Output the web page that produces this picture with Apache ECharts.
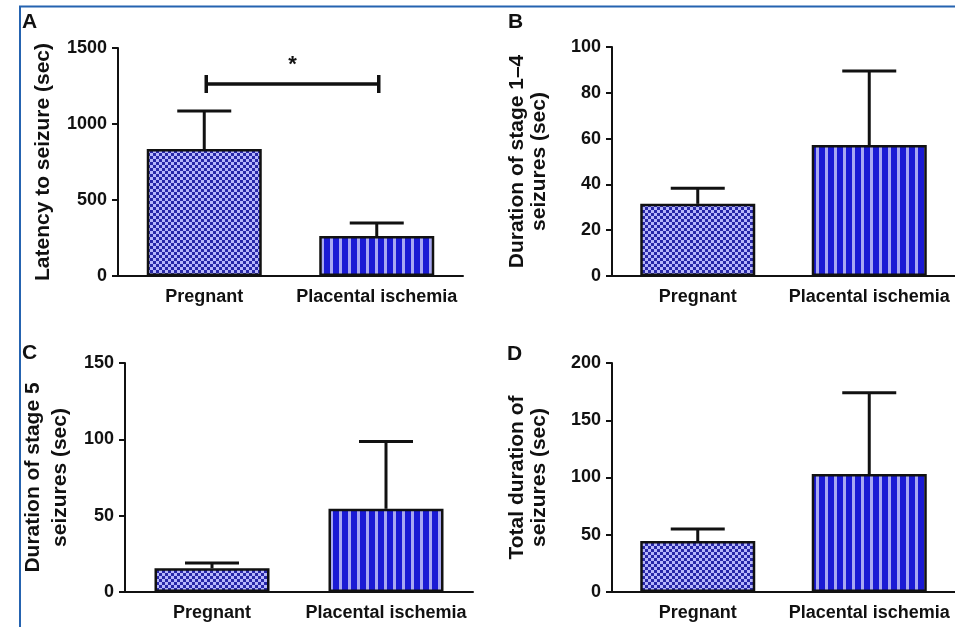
<!DOCTYPE html>
<html>
<head>
<meta charset="utf-8">
<script src="https://cdn.jsdelivr.net/npm/echarts@6/dist/echarts.min.js"></script>
<style>
html,body{margin:0;padding:0;background:#fff;}
#chart{width:955px;height:627px;}
</style>
</head>
<body>
<div id="chart"></div>
<script>
// ---------- data ----------
const categories = ['Pregnant', 'Placental ischemia'];
const latencyMean = [835, 263];
const latencySem = [250, 85];
const stage14Mean = [31.5, 57.2];
const stage14Sem = [6.8, 32.3];
const stage5Mean = [15.5, 54.5];
const stage5Sem = [3.5, 44];
const totalMean = [44.5, 103];
const totalSem = [10.5, 71];
const sigLevel = 1263;
const sigText = '*';
const panelLetters = ['A', 'B', 'C', 'D'];
const yTitles = ['Latency to seizure (sec)', 'Duration of stage 1\u20134\nseizures (sec)', 'Duration of stage 5\nseizures (sec)', 'Total duration of\nseizures (sec)'];
const yMax = [1500, 100, 150, 200];
const yInterval = [500, 20, 50, 50];

// ---------- patterns ----------
function checkerPattern() {
  const c = document.createElement('canvas');
  c.width = 6; c.height = 6;
  const g = c.getContext('2d');
  g.fillStyle = '#b6b6fb'; g.fillRect(0, 0, 6, 6);
  g.fillStyle = '#2828a8';
  g.fillRect(0, 0, 3, 3); g.fillRect(3, 3, 3, 3);
  return c;
}
function stripePattern() {
  const c = document.createElement('canvas');
  c.width = 9; c.height = 9;
  const g = c.getContext('2d');
  g.fillStyle = '#1a1ad4'; g.fillRect(0, 0, 9, 9);
  g.fillStyle = '#a8a8f2'; g.fillRect(6, 0, 3, 9);
  return c;
}
const fills = [
  { image: checkerPattern(), repeat: 'repeat' },
  { image: stripePattern(), repeat: 'repeat' }
];

const FONT = '"Liberation Sans", Arial, sans-serif';
const grids = [
  { left: 118, top: 48, width: 345, height: 228 },
  { left: 612, top: 47, width: 343, height: 229 },
  { left: 125, top: 363, width: 348, height: 229 },
  { left: 612, top: 363, width: 343, height: 229 }
];
const nameGaps = [64, 62, 51, 62];
const nameLH = [22, 22, 27, 22];

const means = [latencyMean, stage14Mean, stage5Mean, totalMean];
const sems = [latencySem, stage14Sem, stage5Sem, totalSem];

const xAxes = [], yAxes = [], series = [];
for (let i = 0; i < 4; i++) {
  xAxes.push({
    type: 'category', gridIndex: i, data: categories,
    axisLine: { lineStyle: { color: '#111', width: 2 } },
    axisTick: { alignWithLabel: true, length: 7, lineStyle: { color: '#111', width: 2 } },
    axisLabel: { color: '#111', fontFamily: FONT, fontWeight: 'bold', fontSize: 18, margin: 12, interval: 0 }
  });
  yAxes.push({
    type: 'value', gridIndex: i, min: 0, max: yMax[i], interval: yInterval[i],
    name: yTitles[i], nameLocation: 'middle', nameRotate: 90, nameGap: nameGaps[i],
    nameTextStyle: { color: '#111', fontFamily: FONT, fontWeight: 'bold', fontSize: 21, lineHeight: nameLH[i] },
    axisLine: { show: true, lineStyle: { color: '#111', width: 2 } },
    axisTick: { show: true, length: 6, lineStyle: { color: '#111', width: 2 } },
    splitLine: { show: false },
    axisLabel: { color: '#111', fontFamily: FONT, fontWeight: 'bold', fontSize: 18, margin: 11,
      formatter: v => String(v) }
  });
  series.push({
    type: 'bar', xAxisIndex: i, yAxisIndex: i, barWidth: 115,
    data: means[i].map((v, k) => ({ value: v, itemStyle: { color: fills[k] } })),
    itemStyle: { borderColor: '#111', borderWidth: 2.5 },
    silent: true, z: 2
  });
  series.push({
    type: 'custom', xAxisIndex: i, yAxisIndex: i, z: 1,
    data: means[i].map((v, k) => [k, v, v + sems[i][k]]),
    renderItem: function (params, api) {
      const p0 = api.coord([api.value(0), api.value(1)]);
      const p1 = api.coord([api.value(0), api.value(2)]);
      const st = { stroke: '#111', lineWidth: 3 };
      return {
        type: 'group', children: [
          { type: 'line', shape: { x1: p0[0], y1: p0[1], x2: p1[0], y2: p1[1] }, style: st },
          { type: 'line', shape: { x1: p1[0] - 27, y1: p1[1], x2: p1[0] + 27, y2: p1[1] }, style: st }
        ]
      };
    }
  });
}
// significance bracket in panel A
series.push({
  type: 'custom', xAxisIndex: 0, yAxisIndex: 0, z: 3,
  data: [[0, 1, sigLevel]],
  renderItem: function (params, api) {
    const a = api.coord([api.value(0), api.value(2)]);
    const b = api.coord([api.value(1), api.value(2)]);
    const st = { stroke: '#111', lineWidth: 3.5 };
    return {
      type: 'group', children: [
        { type: 'line', shape: { x1: a[0] + 2, y1: a[1], x2: b[0] + 2, y2: b[1] }, style: st },
        { type: 'line', shape: { x1: a[0] + 2, y1: a[1] - 9, x2: a[0] + 2, y2: a[1] + 9 }, style: st },
        { type: 'line', shape: { x1: b[0] + 2, y1: b[1] - 9, x2: b[0] + 2, y2: b[1] + 9 }, style: st },
        { type: 'text', x: (a[0] + b[0]) / 2 + 2, y: a[1] - 8,
          style: { text: sigText, fill: '#111', font: 'bold 22px ' + FONT, textAlign: 'center', textVerticalAlign: 'bottom' } }
      ]
    };
  }
});

const letterPos = [[22, 12], [508, 12], [22, 343], [507, 344]];
const graphics = panelLetters.map((t, i) => ({
  type: 'text', left: letterPos[i][0], top: letterPos[i][1],
  style: { text: t, fill: '#111', font: 'bold 21px ' + FONT }
}));
graphics.push({ type: 'line', shape: { x1: 19, y1: 6.5, x2: 955, y2: 6.5 }, style: { stroke: '#2563b0', lineWidth: 2 } });
graphics.push({ type: 'line', shape: { x1: 20, y1: 6, x2: 20, y2: 627 }, style: { stroke: '#2563b0', lineWidth: 2 } });

const chart = echarts.init(document.getElementById('chart'), null, { renderer: 'canvas' });
chart.setOption({
  animation: false,
  backgroundColor: '#fff',
  grid: grids,
  xAxis: xAxes,
  yAxis: yAxes,
  series: series,
  graphic: graphics
});
</script>
</body>
</html>
